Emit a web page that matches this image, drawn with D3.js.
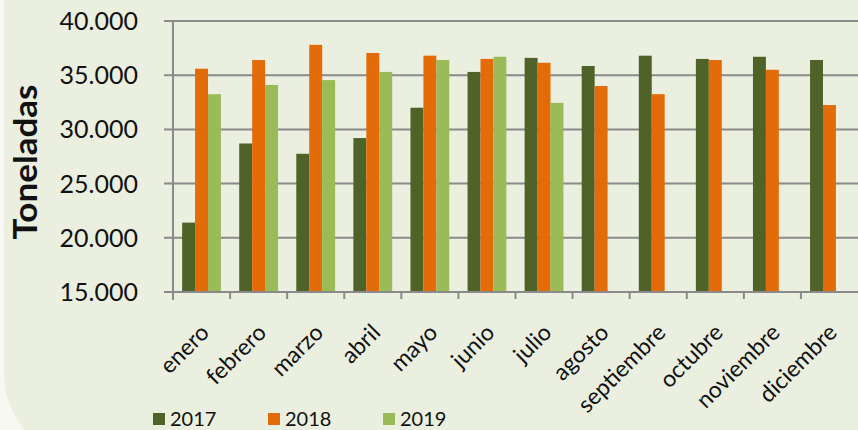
<!DOCTYPE html>
<html>
<head>
<meta charset="utf-8">
<script src="https://cdn.jsdelivr.net/npm/d3@7"></script>
<style>
  body { margin: 0; background: #f7f8f2; }
  svg { display: block; font-family: Lato, "Open Sans", sans-serif; }
</style>
</head>
<body>
<svg id="chart" width="858" height="430"></svg>
<script>
const months = ["enero", "febrero", "marzo", "abril", "mayo", "junio", "julio",
  "agosto", "septiembre", "octubre", "noviembre", "diciembre"];
const years = ["2017", "2018", "2019"];
const v2017 = [21400, 28700, 27750, 29200, 32000, 35300, 36600, 35850, 36800, 36500, 36700, 36400];
const v2018 = [35600, 36400, 37800, 37050, 36800, 36500, 36150, 34000, 33250, 36400, 35500, 32250];
const v2019 = [33250, 34100, 34550, 35300, 36400, 36700, 32450, null, null, null, null, null];
const yTicks = [15000, 20000, 25000, 30000, 35000, 40000];
const colors = ["#4f6228", "#e36c09", "#9bbb59"];

const series = [v2017, v2018, v2019];
const svg = d3.select("#chart");
const W = 858, H = 430;

// background panel with big rounded lower-left corner
svg.append("path")
  .attr("d", `M4,0 H${W} V${H} H24 A96,96 0 0 1 4,368 Z`)
  .attr("fill", "#ebefdf");

const pLeft = 173, pRight = 858, pTop = 21, pBottom = 292;

const x = d3.scaleBand().domain(months).range([pLeft, pRight])
  .paddingInner(0.32).paddingOuter(0.16);
const xs = d3.scaleBand().domain(years).range([0, x.bandwidth()]);
const y = d3.scaleLinear().domain([15000, 40000]).range([pBottom, pTop]);

const fmt = d3.formatLocale({ decimal: ",", thousands: ".", grouping: [3], currency: ["", ""] }).format(",.0f");

// gridlines + y ticks
svg.append("g").selectAll("line").data(yTicks).join("line")
  .attr("x1", pLeft - 9).attr("x2", pRight)
  .attr("y1", d => y(d)).attr("y2", d => y(d))
  .attr("stroke", "#8a8a8a").attr("stroke-width", 2);

svg.append("g").selectAll("text").data(yTicks).join("text")
  .attr("x", 138).attr("y", d => y(d)).attr("dy", "0.36em")
  .attr("text-anchor", "end").attr("font-size", 25).attr("fill", "#111")
  .text(d => fmt(d));

// bars
const step = x.step();
months.forEach((m, i) => {
  series.forEach((s, j) => {
    if (s[i] == null) return;
    svg.append("rect")
      .attr("x", x(m) + xs(years[j]))
      .attr("y", y(s[i]))
      .attr("width", xs.bandwidth())
      .attr("height", y(15000) - y(s[i]))
      .attr("fill", colors[j]);
  });
});

// axes lines
svg.append("line").attr("x1", pLeft).attr("x2", pLeft).attr("y1", pTop).attr("y2", pBottom + 8)
  .attr("stroke", "#8a8a8a").attr("stroke-width", 2);
svg.append("line").attr("x1", pLeft - 9).attr("x2", pRight).attr("y1", pBottom).attr("y2", pBottom)
  .attr("stroke", "#8a8a8a").attr("stroke-width", 2);
svg.append("g").selectAll("line").data(d3.range(1, months.length)).join("line")
  .attr("x1", d => pLeft + d * step).attr("x2", d => pLeft + d * step)
  .attr("y1", pBottom).attr("y2", pBottom + 7)
  .attr("stroke", "#8a8a8a").attr("stroke-width", 2);

// month labels
svg.append("g").selectAll("text").data(months).join("text")
  .attr("transform", d => `translate(${x(d) + x.bandwidth() / 2 + 9},${pBottom + 42}) rotate(-45)`)
  .attr("text-anchor", "end").attr("font-size", 23).attr("fill", "#111")
  .text(d => d);

// y title
svg.append("text")
  .attr("transform", "translate(37,162) rotate(-90)")
  .attr("text-anchor", "middle").attr("font-size", 32).attr("font-weight", "bold")
  .attr("fill", "#111").attr("textLength", 155).attr("lengthAdjust", "spacingAndGlyphs")
  .text("Toneladas");

// legend (kept just inside the bottom edge)
const leg = svg.append("g").selectAll("g").data(years).join("g")
  .attr("transform", (d, i) => `translate(${153 + i * 115},413)`);
leg.append("rect").attr("width", 12).attr("height", 12).attr("fill", (d, i) => colors[i]);
leg.append("text").attr("x", 17).attr("y", 13).attr("font-size", 20).attr("fill", "#111").text(d => d);
</script>
</body>
</html>
